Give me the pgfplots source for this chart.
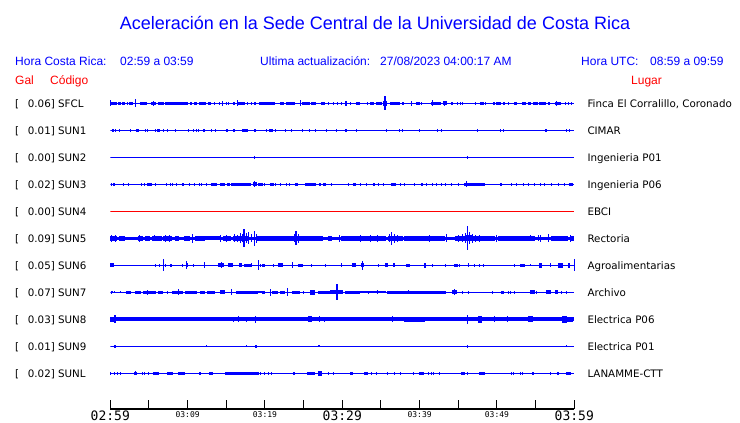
\documentclass[border=0pt]{standalone}
\usepackage{pgfplots}
\pgfplotsset{compat=1.18}
\usepackage{pgfplotstable}
\usepackage{fontspec}
\setmainfont{Liberation Sans}
\newfontfamily\dvs{DejaVu Sans}
\newfontfamily\dvsm{DejaVu Sans Mono}
\definecolor{cblue}{RGB}{0,0,255}
\definecolor{cred}{RGB}{255,0,0}
\newcommand\bigt[1]{\hbox{\dvsm\fontsize{13}{13}\selectfont #1}}
\newcommand\smt[1]{\hbox{\dvsm\fontsize{8}{8}\selectfont #1}}
\pgfdeclareplotmark{burst}{%
  \pgfpathrectanglecorners{\pgfpoint{-\bw pt}{-\bh pt}}{\pgfpoint{\bw pt}{\bh pt}}%
  \pgfusepathqfill}
\pgfplotsset{
  seis/.style={only marks, mark=burst, color=cblue, mark options={fill=cblue, draw=none},
    visualization depends on={\thisrow{w}\as\bw},
    visualization depends on={\thisrow{h}\as\bh}},
  base/.style={cblue, line width=1pt, no marks},
}
% bursts: x = minutes after 02:59, w = half width (px), h = half height (px)
\pgfplotstableread{
x w h
0.0 0.5 3
0.4 3.3 1.5
1.17 1.7 1.5
1.73 1.3 1.5
2.25 0.7 1.2
2.68 2.2 1.5
3.28 0.5 4
4.31 3.8 1.5
5.65 2.5 1.5
5.65 0.5 2.5
6.6 3 1.5
8.58 11.7 1.5
10.43 1.2 1.5
11.0 1.2 1.5
11.9 3.7 1.5
12.85 1.3 1.5
13.5 0.7 1.2
14.1 0.8 1.5
14.5 0.5 2.5
15.0 0.5 1.5
15.3 0.5 1.5
16.0 1.2 1.5
16.5 0.5 3
17.0 3.3 1.5
17.8 0.5 1.5
18.3 0.5 1.5
18.7 0.7 1.5
19.6 3.3 1.5
20.3 7.5 1.5
22.2 2 1.5
23.3 4.5 1.5
24.6 0.5 3
25.3 4.2 1.5
26.3 2.2 1.5
27.5 2 1.5
28.2 0.5 1.5
28.8 0.5 1.5
29.4 0.5 1.5
29.9 0.5 1.5
30.5 0.7 2.5
31.0 0.5 1.5
32.0 2 1.5
33.2 0.5 1.5
33.9 2 1.5
34.8 3 1.5
35.5 2.2 2.5
35.5 0.7 7
36.8 5.3 1.5
37.8 1 1.5
39.0 0.5 2.5
39.8 1.7 1.5
40.2 0.5 1.5
41.7 2 1.5
41.6 0.5 3
42.4 2.7 1.5
43.3 1.7 2
43.2 0.5 2.5
44.2 1.2 1.5
44.9 0.8 1.5
45.3 0.5 1.5
45.6 0.5 1.5
47.2 0.5 1.5
48.0 2 1.5
48.5 0.5 1.5
49.6 1.3 1.5
50.2 2.2 1.5
50.9 1.2 1.5
51.5 0.5 1.5
52.4 1.2 1.5
53.5 2.2 1.5
54.2 1.2 1.5
55.0 2.5 1.5
55.9 3.8 1.5
56.7 0.8 1.5
57.9 3.3 1.5
57.7 0.5 2.5
58.8 0.5 1.5
59.2 0.5 1.5
59.7 0.5 1.5
}\tSFCL
\pgfplotstableread{
x w h
0.35 1.3 1.2
0.7 0.5 1.2
1.2 0.5 1.2
2.6 0.8 1.2
3.5 1.7 1.2
4.5 0.5 1.2
4.8 0.5 1.2
5.8 0.5 1.2
6.25 1.2 1.2
6.9 0.5 1.2
7.4 0.5 1.2
8.4 0.5 1.2
10.1 0.5 1.2
10.7 0.5 1.2
11.2 0.5 1.2
11.4 0.5 1.2
12.1 0.8 1.2
13.1 0.5 1.2
13.6 0.5 1.2
15.1 0.8 1.2
16.0 0.8 1.2
17.4 3 1.2
17.8 0.5 1.2
18.7 0.8 1.2
20.2 0.5 1.2
20.8 1.7 1.2
21.4 0.5 1.2
22.7 0.5 1.2
23.4 0.5 1.2
24.9 0.5 1.2
25.8 0.5 1.2
26.5 0.5 1.2
28.0 0.5 1.2
29.3 0.5 1.2
30.5 1.2 1.2
31.9 0.5 1.2
35.7 0.5 1.2
37.4 0.5 1.2
37.8 0.5 1.2
40.0 0.5 1.2
42.3 0.5 1.2
42.8 0.5 1.2
47.5 0.8 1.2
50.4 0.5 1.2
50.8 0.5 1.2
56.4 1 1.2
59.0 0.5 1.2
59.4 0.5 1.2
}\tSUNa
\pgfplotstableread{
x w h
18.6 0.5 1.5
46.2 0.5 1.5
}\tSUNb
\pgfplotstableread{
x w h
0.1 0.5 1.5
0.5 1.2 1.2
1.7 0.5 1.2
2.4 0.5 1.2
4.0 0.5 1.2
4.4 0.5 1.2
5.1 2.3 1.2
5.9 0.5 1.2
7.3 0.5 1.2
7.8 0.5 1.2
8.1 0.5 1.2
8.6 0.5 1.2
9.4 1 1.2
10.3 0.5 1.2
10.9 0.5 1.2
11.5 0.5 1.2
11.8 0.5 1.2
12.5 0.5 1.2
13.4 2.8 1.2
14.5 2.5 1.2
15.3 1.7 1.2
16.9 10.3 1.3
18.7 1.7 2
18.7 0.5 3
19.4 2.5 1.2
19.6 0.8 1.2
20.0 0.5 1.2
20.9 1.7 1.2
21.4 0.5 1.2
22.0 0.5 1.2
22.8 0.5 1.2
23.2 0.5 1.2
24.1 1.7 1.2
25.9 5.8 1.2
27.1 0.8 1.2
27.7 1.3 1.2
28.6 0.5 1.2
30.8 0.5 1.2
31.6 1.7 1.2
32.3 0.5 1.2
33.1 0.5 1.2
34.1 1.2 1.2
34.7 0.5 1.2
35.3 0.5 1.2
36.6 2.7 1.2
37.5 0.5 1.2
38.1 0.5 1.2
39.4 0.5 1.2
40.3 1.2 1.2
40.9 0.5 1.2
41.6 0.5 1.2
42.2 0.5 1.2
42.8 0.5 1.2
43.4 0.5 1.2
44.1 0.5 1.2
45.0 0.5 1.2
47.1 10.3 1.3
46.1 0.5 3
50.5 1.2 1.2
51.9 0.5 1.2
52.5 0.5 1.2
53.4 0.5 1.2
54.1 0.5 1.2
54.9 0.5 1.2
55.6 0.5 1.2
56.1 0.5 1.2
57.0 0.5 1.2
57.9 0.5 1.2
58.7 0.5 1.2
59.6 2 1.2
}\tSUNc
\pgfplotstableread{
x w h
0.4 3.3 2.8
0.2 0.5 3.5
0.7 0.5 3.5
1.5 3.3 2.2
3.9 2.5 2.5
3.8 0.5 3.5
4.8 2.5 2.3
6.0 5 2.3
5.7 0.5 3
7.4 4.2 2.5
7.2 0.5 3.5
7.7 0.5 3.5
8.6 1.7 2.5
9.9 3.3 2.5
10.6 0.5 4.5
11.6 5 2.3
13.2 7.5 2
14.3 0.5 3.5
15.1 4.2 2.5
15.0 0.5 3.5
16.9 8 2.8
16.0 0.5 4
16.4 0.5 3.5
16.8 0.5 5
17.1 0.5 4
17.3 0.6 9
17.6 0.5 5
17.9 0.5 6
18.2 0.5 4
18.6 0.6 7.5
18.9 0.5 4.5
19.4 4.2 2.3
21.5 16.7 2.2
24.1 3.3 2.8
24.0 0.6 7
23.8 0.5 4
24.3 0.5 4.5
26.0 11.7 2.3
28.4 1.7 2.8
29.7 0.5 3.5
32.8 22.5 2.2
32.3 0.5 3.5
33.6 0.5 3.5
34.5 0.5 3.5
36.9 7.5 2.8
36.4 0.6 6.5
36.1 0.5 4
36.7 0.5 4.5
37.1 0.5 3.5
39.0 8.3 2.3
41.3 15 2.2
41.3 0.5 3.5
43.5 0.5 4
45.2 5 2.5
45.0 0.5 3.5
45.5 0.5 4
46.3 3.3 3
45.9 0.5 5
46.2 0.7 12
46.5 0.5 6
46.8 0.5 4.5
47.4 5 2.5
47.2 0.5 3.5
47.7 0.5 3.5
48.9 6.7 2.2
49.9 0.5 3.5
52.5 18.3 2.2
54.3 0.5 3
55.6 0.5 3.5
55.4 0.5 3
56.6 0.5 4
58.1 8.3 2.3
59.5 0.5 3.5
59.7 2 2.8
}\tSUNe
\pgfplotstableread{
x w h
0.2 2.2 2
5.9 0.5 1.5
6.4 0.5 1.5
6.9 0.7 6
7.2 0.5 1.5
7.8 1 1.5
9.3 0.5 1.5
9.9 1.3 2
9.9 0.5 4
10.7 0.5 1.5
12.2 0.7 3
14.3 3.3 2
14.4 0.5 3
15.6 2.5 2
16.8 1.7 2
17.8 3.7 1.8
18.3 0.5 2
19.2 0.7 5
19.8 1.7 1.5
19.4 0.5 1.5
20.0 0.5 1.5
21.1 0.5 1.5
22.0 2.2 2
23.6 0.5 3
24.6 2.5 1.5
26.0 0.5 1.5
27.8 0.5 1.5
29.9 0.8 2
31.5 2.2 2
32.6 0.7 4.5
32.6 1.5 2
34.7 0.5 1.5
35.7 1.7 2
36.7 0.8 2
38.5 1.7 1.5
40.7 0.7 2.5
41.6 0.5 1.5
43.4 0.5 1.5
44.7 2 1.5
45.2 0.5 1.5
46.3 0.8 2
47.1 0.5 1.5
47.8 0.5 1.5
48.3 0.5 1.5
52.3 0.5 1.5
53.3 2.3 1.5
54.3 0.5 1
55.6 1.7 2.5
56.9 0.7 2
58.2 2.5 2.5
59.3 0.7 2.5
60.0 0.5 6
}\tSUNf
\pgfplotstableread{
x w h
0.1 0.5 1.5
0.3 0.5 1
0.6 0.5 1
1.3 0.5 1
2.4 2.5 1.5
3.6 3.3 1.5
5.1 6.7 1.5
4.8 0.5 2.5
6.5 2.5 1.5
7.4 0.5 1.5
8.7 5.8 1.8
8.8 0.7 3
10.4 5.8 1.5
11.9 2.5 1.5
13.0 4.2 1.5
14.5 2.5 2
15.7 0.7 3
17.7 10.8 1.5
19.5 3.3 1
19.8 1.7 1.5
20.7 0.7 3.5
21.3 2.8 1.5
22.3 2.5 1.5
22.9 0.7 4
24.0 4.2 1.5
25.0 0.5 1.5
26.1 2.5 2.5
27.6 5.8 1.5
28.8 3 2
29.3 0.7 8
29.8 2.5 2
31.3 7.5 1.5
34.0 13 1
33.4 0.5 1.5
34.6 0.5 2
37.9 16.7 1.5
38.6 0.5 2
41.4 16 1.5
44.5 0.7 3
44.5 2.5 2
45.6 0.5 1.5
46.3 0.5 1.5
49.4 0.5 1.5
50.7 1.7 1.5
51.5 0.5 1.5
51.7 0.5 1.5
52.3 0.5 1.5
54.6 2.5 2
55.1 0.5 1.5
56.7 2.5 2
57.7 1.7 2
58.4 0.5 1.5
59.0 0.5 1.5
}\tSUNg
\pgfplotstableread{
x w h
0.6 0.7 4
0.3 3 2.8
15.9 0.5 2.8
16.6 0.7 3
17.6 0.5 2.8
18.8 0.7 3.2
25.8 1.7 3
27.0 0.5 3
27.7 0.5 2.8
36.5 0.5 3
39.0 7.5 2.3
40.0 5 2.3
46.2 0.7 4.5
47.8 1.7 3.2
49.7 0.5 3
51.3 0.5 3
54.4 2.5 3
58.7 2.5 3.2
59.5 3 2.4
}\tSUNh
\pgfplotstableread{
x w h
0.6 1.3 1.5
12.4 0.5 1
17.6 0.5 1
18.8 1 1.5
27.0 1.2 1
46.2 0.7 1.5
59.0 0.5 1
}\tSUNi
\pgfplotstableread{
x w h
0.0 0.5 1.2
0.5 0.5 1.2
0.9 0.5 1.2
1.3 0.5 1.2
3.2 1.5 1.5
3.2 0.5 2
4.1 0.5 1.2
4.4 0.5 1.2
4.9 0.5 1.2
5.8 2.5 1.5
6.2 0.5 1.2
7.7 3.3 1.5
9.2 3.3 1.5
11.6 1 1.5
13.0 2.3 1.5
17.0 17 1.5
19.4 0.5 1.2
20.0 0.5 1.2
20.4 0.5 1.2
20.9 0.5 1.2
23.7 1 1.5
25.9 4 1.5
27.1 1.7 2.5
28.2 0.5 1.2
28.9 0.5 1.2
31.2 1.7 1.5
33.1 2 1.5
33.8 0.5 1.2
34.4 0.5 1.2
35.9 0.5 1.2
36.8 0.5 1.2
37.5 0.5 1.2
39.2 0.5 1.2
40.3 2.5 1.5
41.1 0.5 1.2
41.5 0.5 1.2
41.8 0.5 1.2
42.6 0.5 1.2
45.6 1.7 1.5
46.2 0.5 1.2
48.1 2.8 1.5
51.9 0.5 1.2
52.2 0.5 1.2
53.0 0.5 1.2
53.3 0.5 1.2
54.6 1 1.5
56.9 0.5 1.2
57.9 0.8 1.5
59.3 2.5 1.5
}\tSUNL
\begin{document}
\begin{tikzpicture}
\path[use as bounding box] (0,0) rectangle (740pt,-423pt);
\begin{axis}[
  at={(110.3pt,-409pt)}, anchor=south west,
  scale only axis, width=464pt, height=319pt,
  xmin=0, xmax=60, ymin=0, ymax=319,
  axis x line=bottom, axis y line=none,
  axis line style={-, black, line width=1.2pt},
  xtick={0,5,...,60},
  xticklabels={\bigt{02:59},{},\smt{03:09},{},\smt{03:19},{},\bigt{03:29},{},\smt{03:39},{},\smt{03:49},{},\bigt{03:59}},
  tick align=inside, major tick length=9pt,
  tick style={black, line width=1pt},
  xticklabel style={anchor=north, inner sep=0pt, yshift=-2pt},
]
\addplot[base] coordinates {(0,305.7) (60,305.7)};
\addplot[seis] table[x=x, y expr=305.7] \tSFCL;
\addplot[base] coordinates {(0,278.7) (60,278.7)};
\addplot[seis] table[x=x, y expr=278.7] \tSUNa;
\addplot[base] coordinates {(0,251.7) (60,251.7)};
\addplot[seis] table[x=x, y expr=251.7] \tSUNb;
\addplot[base] coordinates {(0,224.7) (60,224.7)};
\addplot[seis] table[x=x, y expr=224.7] \tSUNc;
\addplot[cred, line width=1pt, no marks] coordinates {(0,197.7) (60,197.7)};
\addplot[base, line width=3.6pt] coordinates {(0,170.7) (60,170.7)};
\addplot[seis] table[x=x, y expr=170.7] \tSUNe;
\addplot[base] coordinates {(0,143.7) (60,143.7)};
\addplot[seis] table[x=x, y expr=143.7] \tSUNf;
\addplot[base] coordinates {(0,116.7) (60,116.7)};
\addplot[seis] table[x=x, y expr=116.7] \tSUNg;
\addplot[base, line width=4pt] coordinates {(0,89.7) (60,89.7)};
\addplot[seis] table[x=x, y expr=89.7] \tSUNh;
\addplot[base] coordinates {(0,62.7) (60,62.7)};
\addplot[seis] table[x=x, y expr=62.7] \tSUNi;
\addplot[base] coordinates {(0,35.7) (60,35.7)};
\addplot[seis] table[x=x, y expr=35.7] \tSUNL;
\end{axis}
% titles and header
\node[anchor=base, inner sep=0, text=cblue, font=\fontsize{18}{18}\selectfont] at (375pt,-29pt) {Aceleración en la Sede Central de la Universidad de Costa Rica};
\begin{scope}[every node/.style={anchor=base west, inner sep=0, text=cblue, font=\fontsize{12}{12}\selectfont}]
\node at (15pt,-65pt) {Hora Costa Rica:};
\node at (120pt,-65pt) {02:59 a 03:59};
\node at (260pt,-65pt) {Ultima actualización:};
\node at (380pt,-65pt) {27/08/2023 04:00:17 AM};
\node at (581pt,-65pt) {Hora UTC:};
\node at (650pt,-65pt) {08:59 a 09:59};
\node[text=cred] at (15pt,-84.3pt) {Gal};
\node[text=cred] at (50pt,-84.3pt) {Código};
\node[text=cred] at (631pt,-84.3pt) {Lugar};
\end{scope}
\begin{scope}[every node/.style={anchor=base west, inner sep=0, text=black, font=\dvs\fontsize{10.3}{10.3}\selectfont}]
\foreach \v/\c/\l [count=\k from 0] in {0.06/SFCL/{Finca El Corralillo, Coronado},0.01/SUN1/CIMAR,0.00/SUN2/Ingenieria P01,0.02/SUN3/Ingenieria P06,0.00/SUN4/EBCI,0.09/SUN5/Rectoria,0.05/SUN6/Agroalimentarias,0.07/SUN7/Archivo,0.03/SUN8/Electrica P06,0.01/SUN9/Electrica P01,0.02/SUNL/LANAMME-CTT}{
  \pgfmathsetmacro\yy{-107.3-27*\k}
  \node at (15pt,\yy pt) {[};
  \node at (27.7pt,\yy pt) {\v] \c};
  \node at (587.3pt,\yy pt) {\l};
}
\end{scope}
\end{tikzpicture}
\end{document}
